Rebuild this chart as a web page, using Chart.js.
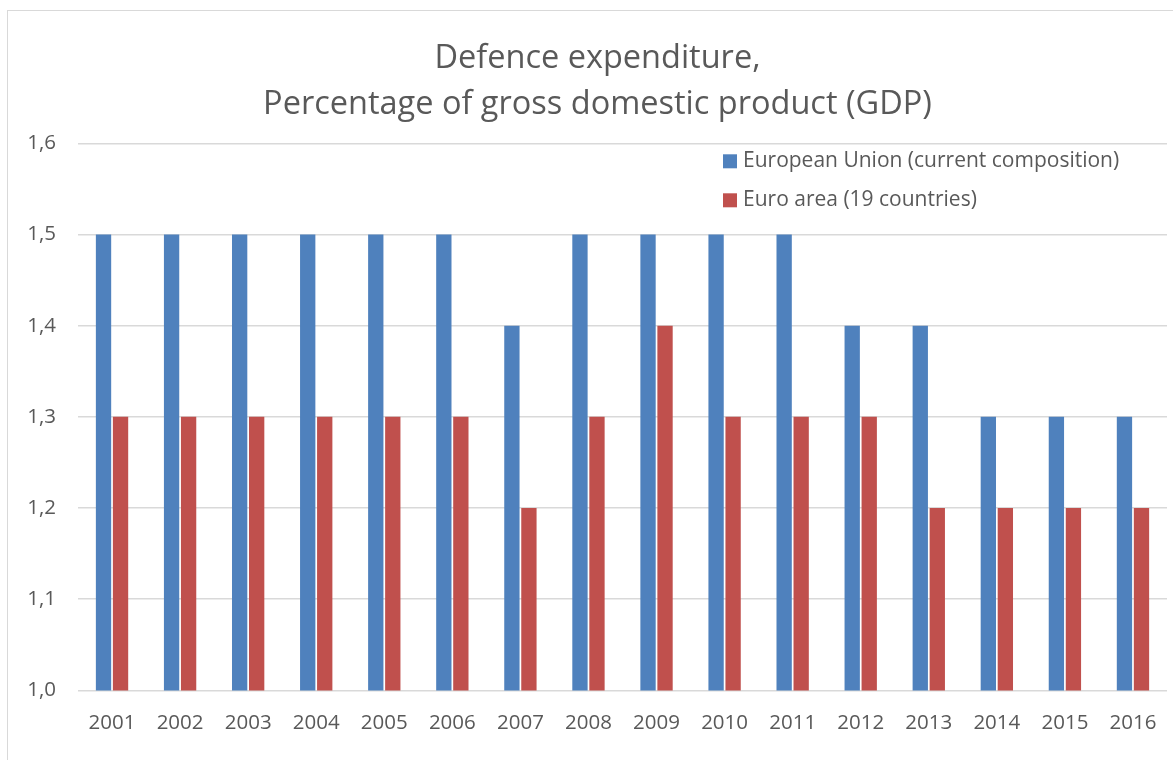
<!DOCTYPE html>
<html>
<head>
<meta charset="utf-8">
<script src="https://cdn.jsdelivr.net/npm/chart.js@4"></script>
<style>
  html, body { margin: 0; padding: 0; background: #fff; }
  #wrap { position: relative; width: 1173px; height: 760px; overflow: hidden; }
  #frame { position: absolute; left: 7px; top: 10px; width: 1200px; height: 800px; border: 1px solid #d9d9d9; box-sizing: border-box; }
  canvas { position: absolute; left: 0; top: 0; }
</style>
</head>
<body>
<div id="wrap">
  <div id="frame"></div>
  <canvas id="chart" width="1173" height="760"></canvas>
</div>
<script>
// Data
const years = ['2001', '2002', '2003', '2004', '2005', '2006', '2007', '2008',
               '2009', '2010', '2011', '2012', '2013', '2014', '2015', '2016'];
const euValues   = [1.5, 1.5, 1.5, 1.5, 1.5, 1.5, 1.4, 1.5, 1.5, 1.5, 1.5, 1.4, 1.4, 1.3, 1.3, 1.3];
const euroValues = [1.3, 1.3, 1.3, 1.3, 1.3, 1.3, 1.2, 1.3, 1.4, 1.3, 1.3, 1.3, 1.2, 1.2, 1.2, 1.2];
const seriesNames = ['European Union (current composition)', 'Euro area (19 countries)'];
const titleLines = ['Defence expenditure,', 'Percentage of gross domestic product (GDP)'];

const FONT = "'Open Sans', sans-serif";
const TEXT = '#595959';

// legend drawn inside the plot, top right, stacked
const insideLegend = {
  id: 'insideLegend',
  afterDraw(chart) {
    const ctx = chart.ctx;
    const area = chart.chartArea;
    const x = area.right - 444;
    let y = area.top + 18;
    ctx.save();
    ctx.font = '21px ' + FONT;
    ctx.textBaseline = 'middle';
    chart.data.datasets.forEach((ds) => {
      ctx.fillStyle = ds.backgroundColor;
      ctx.fillRect(x, y - 7, 14, 14);
      ctx.fillStyle = TEXT;
      ctx.fillText(ds.label, x + 20, y);
      y += 39;
    });
    ctx.restore();
  }
};

new Chart(document.getElementById('chart'), {
  type: 'bar',
  data: {
    labels: years,
    datasets: [
      { label: seriesNames[0], data: euValues, backgroundColor: '#4F81BD',
        barPercentage: 0.9, categoryPercentage: 0.5 },
      { label: seriesNames[1], data: euroValues, backgroundColor: '#C0504D',
        barPercentage: 0.9, categoryPercentage: 0.5 }
    ]
  },
  options: {
    responsive: false,
    animation: false,
    layout: { padding: { left: 28, right: 6, top: 0, bottom: 13 } },
    plugins: {
      legend: { display: false },
      tooltip: { enabled: false },
      title: {
        display: true,
        text: titleLines,
        color: TEXT,
        font: { family: FONT, size: 32.5, weight: 'normal', lineHeight: 1.42 },
        padding: { top: 36, bottom: 15 }
      }
    },
    scales: {
      x: {
        grid: { display: false },
        border: { display: false },
        ticks: { color: TEXT, font: { family: FONT, size: 20.5 }, padding: 12, maxRotation: 0 }
      },
      y: {
        min: 1.0,
        max: 1.6,
        grid: { color: '#d9d9d9', lineWidth: 1.5, drawTicks: false },
        border: { display: false },
        afterFit: (scale) => { scale.width = 50; },
        ticks: {
          stepSize: 0.1,
          color: TEXT,
          font: { family: FONT, size: 20.5 },
          padding: 22,
          callback: (v) => v.toFixed(1).replace('.', ',')
        }
      }
    }
  },
  plugins: [insideLegend]
});
</script>
</body>
</html>
